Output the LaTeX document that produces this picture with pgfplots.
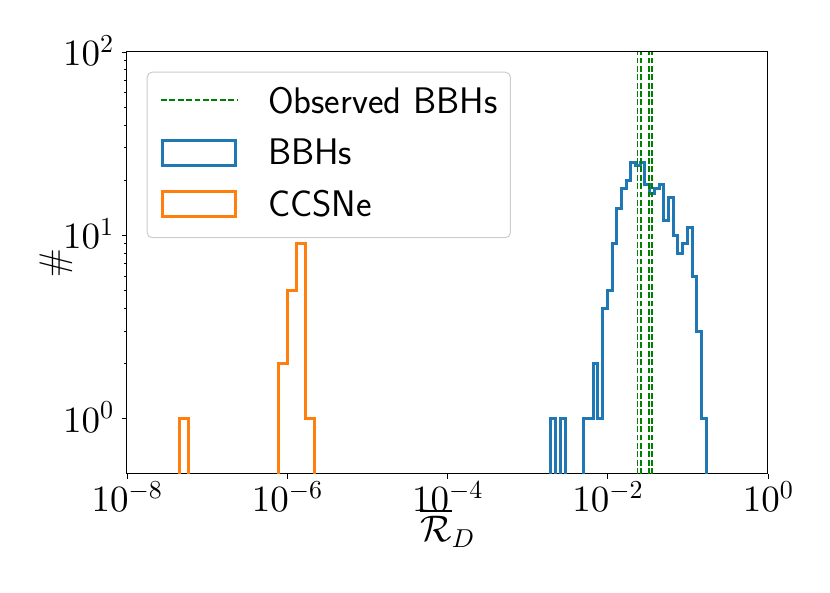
\documentclass[border=0pt]{standalone}
\usepackage{pgfplots}
\pgfplotsset{compat=1.18}
\DeclareFontShape{OT1}{cmr}{m}{n}{<->cmr10}{}
\DeclareFontShape{OML}{cmm}{m}{it}{<->cmmi10}{}
\DeclareFontShape{OMS}{cmsy}{m}{n}{<->cmsy10}{}
\DeclareFontShape{OMX}{cmex}{m}{n}{<->cmex10}{}
\definecolor{mplblue}{HTML}{1F77B4}
\definecolor{mplorange}{HTML}{FF7F0E}
\definecolor{mplgreen}{HTML}{008000}
\pgfplotsset{
 legobs/.style={legend image code/.code={\draw[sharp corners, mplgreen, line width=1.9pt, dash pattern=on 5.85pt off 2.53pt] (0pt,13.4pt) -- (76pt,13.4pt);}},
 legbbh/.style={legend image code/.code={\draw[sharp corners, mplblue, line width=3pt] (1.5pt,-0.6pt) rectangle (74.5pt,24.6pt);}},
 legcc/.style={legend image code/.code={\draw[sharp corners, mplorange, line width=3pt] (1.5pt,-0.8pt) rectangle (74.5pt,24.6pt);}},
}
\begin{document}
\begin{tikzpicture}
\begin{axis}[
  name=ax, at={(0,0)}, anchor=south west,
  scale only axis, width=641pt, height=422pt,
  xmode=log, ymode=log,
  xmin=1e-8, xmax=1, ymin=0.5, ymax=100,
  xtick={1e-8,1e-6,1e-4,1e-2,1},
  xminorticks=false,
  ytick={1,10,100},
  tick pos=left, tick align=outside,
  major tick length=4.8pt, minor tick length=2.8pt,
  tick style={black, line width=0.9pt},
  axis line style={black, line width=1pt},
  ticklabel style={font=\fontsize{37}{40}\selectfont},
  xticklabel style={anchor=base, yshift=-32.7pt},
  yticklabel style={anchor=base east, xshift=-5pt, yshift=-13.5pt},
  xlabel={$\overline{\mathcal{R}}_D$},
  ylabel={\#},
  label style={font=\fontsize{37}{40}\selectfont},
  xlabel style={at={([yshift=-67.5pt]axis description cs:0.5,0)}, anchor=base},
  ylabel style={at={([xshift=-61pt]axis description cs:0,0.5)}, anchor=base, rotate=0},
  legend style={at={(axis description cs:0.0307,0.9533)}, anchor=north west,
    draw=black!20, line width=1pt, rounded corners=5pt, fill=white,
    inner xsep=13pt, inner ysep=15.3pt, row sep=18.9pt, column sep=30pt,
    font=\sffamily\fontsize{37}{44}\selectfont,
    cells={anchor=base west},
    nodes={inner sep=0pt, text height=26pt, text depth=6.3pt}},
]
\addlegendimage{legobs}
\addlegendentry{Observed BBHs}
\addlegendimage{legbbh}
\addlegendentry{BBHs}
\addlegendimage{legcc}
\addlegendentry{CCSNe}

\addplot[mplblue, line width=3pt, const plot, forget plot] coordinates {
(1.957e-3,0.01) (1.957e-3,1) (2.241e-3,0.01) (2.565e-3,1) (2.936e-3,0.01)
(5.039e-3,1) (5.768e-3,1) (6.601e-3,2) (7.556e-3,1) (8.648e-3,4) (9.899e-3,5)
(1.133e-2,9) (1.297e-2,14) (1.484e-2,18) (1.699e-2,20) (1.945e-2,25) (2.226e-2,24)
(2.548e-2,25) (2.917e-2,19) (3.338e-2,17) (3.821e-2,18) (4.374e-2,19) (5.006e-2,12)
(5.730e-2,16) (6.559e-2,10) (7.507e-2,8) (8.593e-2,9) (9.835e-2,11) (0.1126,6)
(0.1289,3) (0.1475,1) (0.1688,0.01)
};
\addplot[mplorange, line width=3pt, const plot, forget plot] coordinates {
(4.495e-8,0.01) (4.495e-8,1) (5.819e-8,0.01) (7.684e-7,2) (9.947e-7,5)
(1.288e-6,9) (1.667e-6,1) (2.158e-6,0.01)
};
\addplot[mplgreen, line width=1.9pt, dash pattern=on 5.85pt off 2.53pt, forget plot] coordinates {(0.0235,0.5) (0.0235,100)};
\addplot[mplgreen, line width=1.9pt, dash pattern=on 5.85pt off 2.53pt, forget plot] coordinates {(0.0259,0.5) (0.0259,100)};
\addplot[mplgreen, line width=1.9pt, dash pattern=on 5.85pt off 2.53pt, forget plot] coordinates {(0.0330,0.5) (0.0330,100)};
\addplot[mplgreen, line width=1.9pt, dash pattern=on 5.85pt off 2.53pt, forget plot] coordinates {(0.0360,0.5) (0.0360,100)};
\end{axis}
\pgfresetboundingbox
\path[use as bounding box] (-127pt,-119pt) rectangle (703pt,474pt);
\end{tikzpicture}
\end{document}
